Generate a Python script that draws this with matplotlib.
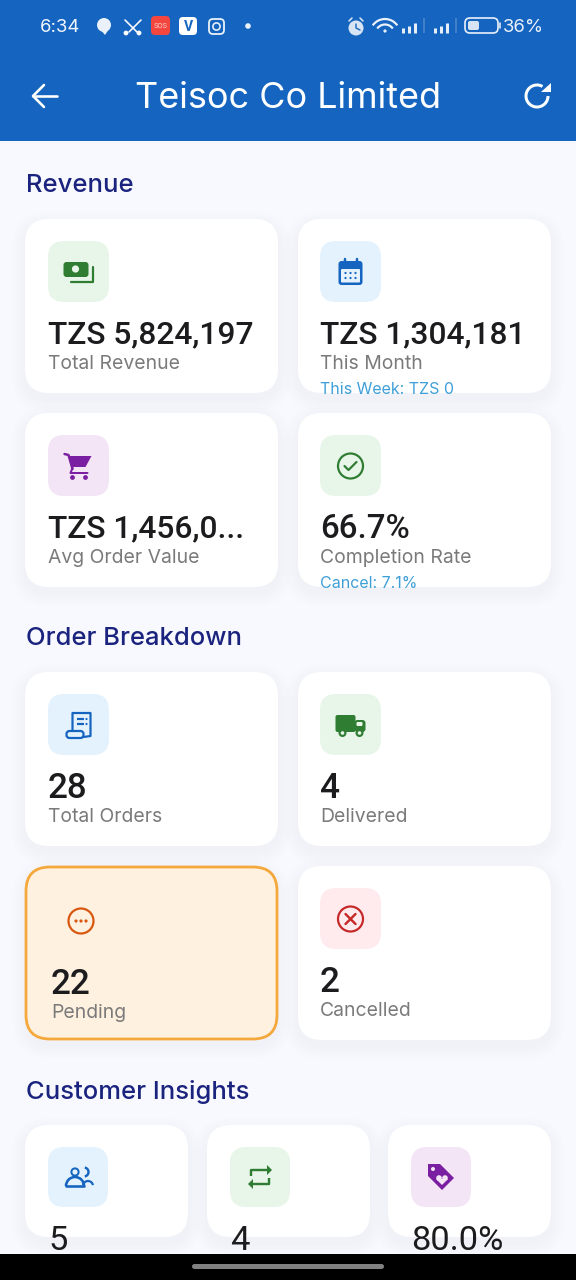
import matplotlib
matplotlib.use("Agg")
from matplotlib import pyplot as plt
from matplotlib.patches import FancyBboxPatch, Circle, Polygon, Rectangle, Arc

# text shown on the screen
status_time = "6:34"
battery_text = "36%"
title = "Teisoc Co Limited"
section_names = ["Revenue", "Order Breakdown", "Customer Insights"]
revenue_values = ["TZS 5,824,197", "TZS 1,304,181", "TZS 1,456,0...", "66.7%"]
revenue_labels = ["Total Revenue", "This Month", "Avg Order Value", "Completion Rate"]
revenue_subs = ["", "This Week: TZS 0", "", "Cancel: 7.1%"]
order_values = ["28", "4", "22", "2"]
order_labels = ["Total Orders", "Delivered", "Pending", "Cancelled"]
insight_values = ["5", "4", "80.0%"]

GREEN, GREEN_BG = "#2E7D32", "#E8F5E9"
BLUE, BLUE_BG = "#1565C0", "#E3F2FD"
PURPLE, PURPLE_BG = "#7B1FA2", "#F3E5F5"
RED, RED_BG = "#C62828", "#FFEBEE"
ORANGE, ORANGE_BG = "#D9560F", "#FFF1DF"
DARK = "#1C1C1E"
GREY = "#7A7A7A"
LINK = "#3F9FD8"
PAGE = "#F8F9FE"
FONT = "Inter"
NUM_FONT = "Roboto"

fig = plt.figure(figsize=(5.76, 12.8), dpi=100, facecolor=PAGE)
ax = fig.add_axes([0, 0, 1, 1])
ax.set_xlim(0, 576)
ax.set_ylim(1280, 0)
ax.axis("off")


def box(x, y, w, h, r, color, z=5, alpha=1, ec="none", lw=0):
    p = FancyBboxPatch((x + r, y + r), w - 2 * r, h - 2 * r,
                       boxstyle=f"round,pad={r},rounding_size={r}",
                       fc=color, ec=ec, lw=lw, alpha=alpha, zorder=z)
    ax.add_patch(p)
    return p


def line(xs, ys, color, w=2.5, z=5, cap="round"):
    ax.plot(xs, ys, color=color, lw=w * 0.72, solid_capstyle=cap,
            solid_joinstyle="round", zorder=z)


def dot(x, y, r, color, z=5):
    ax.add_patch(Circle((x, y), r, fc=color, ec="none", zorder=z))


def ring(x, y, r, color, w=2.2, z=5):
    ax.add_patch(Circle((x, y), r, fc="none", ec=color, lw=w * 0.72, zorder=z))


def arc(x, y, r, t1, t2, color, w=2.2, z=5):
    ax.add_patch(Arc((x, y), r * 2, r * 2, theta1=t1, theta2=t2, color=color, lw=w * 0.72, zorder=z))


def poly(points, color, z=5):
    ax.add_patch(Polygon(points, closed=True, fc=color, ec="none", zorder=z))


def txt(x, y, s, px, color, weight="normal", ha="left", va="center", clip_y=None, font=FONT):
    t = ax.text(x, y, s, fontsize=px * 0.72, color=color, fontweight=weight,
                family=font, ha=ha, va=va, zorder=8)
    if clip_y is not None:
        t.set_clip_path(Rectangle((0, 0), 576, clip_y, transform=ax.transData))
    return t


def card(x, y, w, h, fill="white", ec="none", lw=0):
    for grow in range(14, 0, -2):
        box(x - grow, y - grow + 6, w + 2 * grow, h + 2 * grow, 24 + grow,
            "#39477F", z=1, alpha=0.0035)
    box(x, y, w, h, 24, fill, z=2, ec=ec, lw=lw)


def icon_money(cx, cy):
    box(cx - 15, cy - 10, 25, 15, 3, GREEN)
    dot(cx - 3, cy - 3, 3.6, GREEN_BG, z=6)
    line([cx + 14, cx + 14, cx - 8], [cy - 5, cy + 10, cy + 10], GREEN, 2.2)


def icon_calendar(cx, cy):
    box(cx - 12, cy - 11, 24, 24, 3, BLUE)
    box(cx - 9.5, cy - 3, 19, 13.5, 1, BLUE_BG, z=6)
    line([cx - 6, cx - 6], [cy - 13, cy - 10], BLUE, 2.5)
    line([cx + 6, cx + 6], [cy - 13, cy - 10], BLUE, 2.5)
    for row in (1, 6):
        for col in (-5, 0, 5):
            dot(cx + col, cy + row, 1.1, BLUE, z=7)


def icon_cart(cx, cy):
    line([cx - 14, cx - 10, cx - 6], [cy - 12, cy - 11, cy + 3], PURPLE, 2.4)
    poly([(cx - 10, cy - 10), (cx + 13, cy - 10), (cx + 7, cy + 1), (cx - 6, cy + 1)], PURPLE)
    line([cx - 6, cx - 8, cx + 9], [cy + 2, cy + 7, cy + 7], PURPLE, 2)
    dot(cx - 6, cy + 11.5, 2.4, PURPLE)
    dot(cx + 7, cy + 11.5, 2.4, PURPLE)


def icon_check(cx, cy):
    ring(cx, cy, 12.5, GREEN)
    line([cx - 6, cx - 2, cx + 6], [cy, cy + 4, cy - 4], GREEN, 2.2)


def icon_receipt(cx, cy):
    line([cx - 6, cx - 6, cx + 12, cx + 12, cx + 5],
         [cy + 6, cy - 12, cy - 12, cy + 11, cy + 12], BLUE, 2.2)
    box(cx - 12, cy + 6, 17, 7, 3, BLUE_BG, z=6, ec=BLUE, lw=1.6)
    line([cx - 2, cx + 5], [cy - 6, cy - 6], BLUE, 2.2, cap="butt")
    line([cx - 2, cx + 5], [cy - 1, cy - 1], BLUE, 2.2, cap="butt")
    dot(cx + 8, cy - 6, 1.1, BLUE)
    dot(cx + 8, cy - 1, 1.1, BLUE)


def icon_truck(cx, cy):
    box(cx - 15, cy - 10, 20, 17, 2, GREEN)
    box(cx + 4, cy - 5, 11, 12, 3, GREEN)
    box(cx + 6, cy - 3, 6, 4, 1, GREEN_BG, z=6)
    for off in (-8, 9):
        dot(cx + off, cy + 8, 4, GREEN, z=6)
        dot(cx + off, cy + 8, 1.8, GREEN_BG, z=7)


def icon_dots(cx, cy):
    ring(cx, cy, 12.5, ORANGE)
    for off in (-5, 0, 5):
        dot(cx + off, cy, 1.6, ORANGE)


def icon_cross(cx, cy):
    ring(cx, cy, 12.5, RED)
    line([cx - 5, cx + 5], [cy - 5, cy + 5], RED, 2.4)
    line([cx - 5, cx + 5], [cy + 5, cy - 5], RED, 2.4)


def icon_people(cx, cy):
    ring(cx - 3, cy - 5, 3.6, BLUE, 2)
    arc(cx - 3, cy + 9, 9, 180, 360, BLUE, 2.6)
    line([cx - 12, cx + 6], [cy + 9, cy + 9], BLUE, 2.6)
    arc(cx + 6, cy - 5, 4.5, -80, 80, BLUE, 2.4)
    arc(cx + 10, cy + 9, 5, 190, 350, BLUE, 2.2)


def icon_repeat(cx, cy):
    line([cx - 9, cx - 9, cx + 8], [cy - 1, cy - 7, cy - 7], GREEN, 2.4, cap="butt")
    poly([(cx + 7, cy - 12), (cx + 12, cy - 7), (cx + 7, cy - 2)], GREEN)
    line([cx + 9, cx + 9, cx - 8], [cy + 1, cy + 7, cy + 7], GREEN, 2.4, cap="butt")
    poly([(cx - 7, cy + 2), (cx - 12, cy + 7), (cx - 7, cy + 12)], GREEN)


def icon_tag(cx, cy):
    poly([(cx - 13, cy - 13), (cx - 1, cy - 13), (cx + 13, cy + 1), (cx + 1, cy + 13), (cx - 13, cy - 1)], PURPLE)
    dot(cx - 8, cy - 8, 2, PURPLE_BG, z=6)
    dot(cx - 2, cy + 1, 2.8, PURPLE_BG, z=6)
    dot(cx + 4, cy + 1, 2.8, PURPLE_BG, z=6)
    poly([(cx - 5, cy + 2), (cx + 7, cy + 2), (cx + 1, cy + 8)], PURPLE_BG, z=6)


# header
ax.add_patch(Rectangle((0, 0), 576, 141, fc=BLUE, ec="none", zorder=1))
txt(60, 27, status_time, 18.5, "#F2F6FC", ha="center")
# notification icons
dot(104, 25, 7, "#EAF1FA")
poly([(100, 29), (109, 29), (105, 35)], "#EAF1FA")
dot(126, 33, 2.4, "white")
dot(139, 33, 2.4, "white")
line([125, 137], [20, 32], "white", 1.6)
line([141, 129], [20, 32], "white", 1.6)
box(151, 16, 19, 19, 4, "#F2463F")
txt(160.5, 26, "SOS", 7, "#FFD5D0", ha="center")
box(179, 17, 18, 18, 4, "white")
txt(188, 27, "V", 14, BLUE, "bold", ha="center", font=NUM_FONT)
box(209, 19, 15, 15, 4, "none", ec="#EAF1FA", lw=1.3)
ring(216.5, 26.5, 3.6, "#EAF1FA", 1.6)
dot(248, 26, 2.8, "#EAF1FA")
# right side status icons
dot(356, 28, 7.5, "#D7E4F4")
line([356, 356, 360], [24, 28, 30], BLUE, 1.4)
line([349, 352], [21, 18], "#D7E4F4", 1.6)
line([363, 360], [21, 18], "#D7E4F4", 1.6)
for r in (15, 9.5):
    arc(385, 34, r, 215, 325, "#EAF1FA", 2.2)
dot(385, 31, 1.6, "#EAF1FA")
for x0 in (403, 435):
    for i, h in enumerate((5, 7, 10)):
        line([x0 + i * 6, x0 + i * 6], [33, 33 - h], "#E6EEF8", 3, cap="butt")
    line([x0 + 20.5, x0 + 20.5], [33, 18], "#4C86CC", 1.6, cap="butt")
box(465, 18, 33, 15, 5, "none", ec="#EAF1FA", lw=1.2)
box(468, 21, 11, 9, 2, "#D7E4F4")
line([500, 500], [23, 28], "#EAF1FA", 1.6)
txt(523, 27, battery_text, 18.5, "#EAF1FA", ha="center")
# app bar
line([33, 57], [96, 96], "white", 2.6)
line([44, 33, 44], [85, 96, 107], "white", 2.6)
txt(288, 99, title, 36, "white", ha="center")
arc(537, 96, 11, 0, 300, "white", 3)
poly([(541, 92), (550.5, 92), (550.5, 83)], "white")

# section titles
for y, name in zip((185.5, 638.5, 1091.5), section_names):
    txt(26, y, name, 25.6, "#1A237E", "medium")

# two column cards
left_x, right_x = 25, 298
rev_rows = [219, 219, 413, 413]
rev_icons = [icon_money, icon_calendar, icon_cart, icon_check]
rev_bgs = [GREEN_BG, BLUE_BG, PURPLE_BG, GREEN_BG]
rev_sizes = [31.8, 31.8, 31.8, 33]
for i in range(4):
    x = left_x if i % 2 == 0 else right_x
    pad = 23 if i % 2 == 0 else 22
    y = rev_rows[i]
    card(x, y, 253, 174)
    box(x + pad, y + 22, 61, 61, 16, rev_bgs[i], z=3)
    rev_icons[i](x + pad + 30.5, y + 53)
    txt(x + pad, y + 116, revenue_values[i], rev_sizes[i], DARK, "medium", font=NUM_FONT)
    txt(x + pad, y + 145, revenue_labels[i], 19.4, GREY)
    if revenue_subs[i]:
        txt(x + pad, y + 170, revenue_subs[i], 16, LINK, clip_y=y + 176)

ord_rows = [672, 672, 866, 866]
ord_icons = [icon_receipt, icon_truck, icon_dots, icon_cross]
ord_bgs = [BLUE_BG, GREEN_BG, None, RED_BG]
for i in range(4):
    x = left_x if i % 2 == 0 else right_x
    pad = 23 if i % 2 == 0 else 22
    y = ord_rows[i]
    if order_labels[i] == "Pending":
        card(x + 1, y + 1, 251, 172, ORANGE_BG, "#F5A83C", 2.0)
        icon_dots(x + 56, y + 55)
        txt(x + 26, y + 118, order_values[i], 35, DARK, "medium", font=NUM_FONT)
        txt(x + 26, y + 147, order_labels[i], 19.4, GREY)
        continue
    card(x, y, 253, 174)
    box(x + pad, y + 22, 61, 61, 16, ord_bgs[i], z=3)
    ord_icons[i](x + pad + 30.5, y + 53)
    txt(x + pad, y + 116, order_values[i], 35, DARK, "medium", font=NUM_FONT)
    txt(x + pad, y + 145, order_labels[i], 19.4, GREY)

# three column cards, values spill below the card
tri_x = [25, 207, 388]
tri_icons = [icon_people, icon_repeat, icon_tag]
tri_bgs = [BLUE_BG, GREEN_BG, PURPLE_BG]
for i in range(3):
    x = tri_x[i]
    card(x, 1125, 163, 112)
    box(x + 23, 1147, 60, 60, 16, tri_bgs[i], z=3)
    tri_icons[i](x + 53, 1177)
    txt(x + 23, 1241, insight_values[i], 34.5, DARK, font=NUM_FONT)

# navigation bar
ax.add_patch(Rectangle((0, 1254), 576, 26, fc="black", ec="none", zorder=9))
box(192, 1264, 192, 5, 2.5, "#808080", z=10)

fig.savefig("out.png", dpi=100, facecolor=PAGE)
